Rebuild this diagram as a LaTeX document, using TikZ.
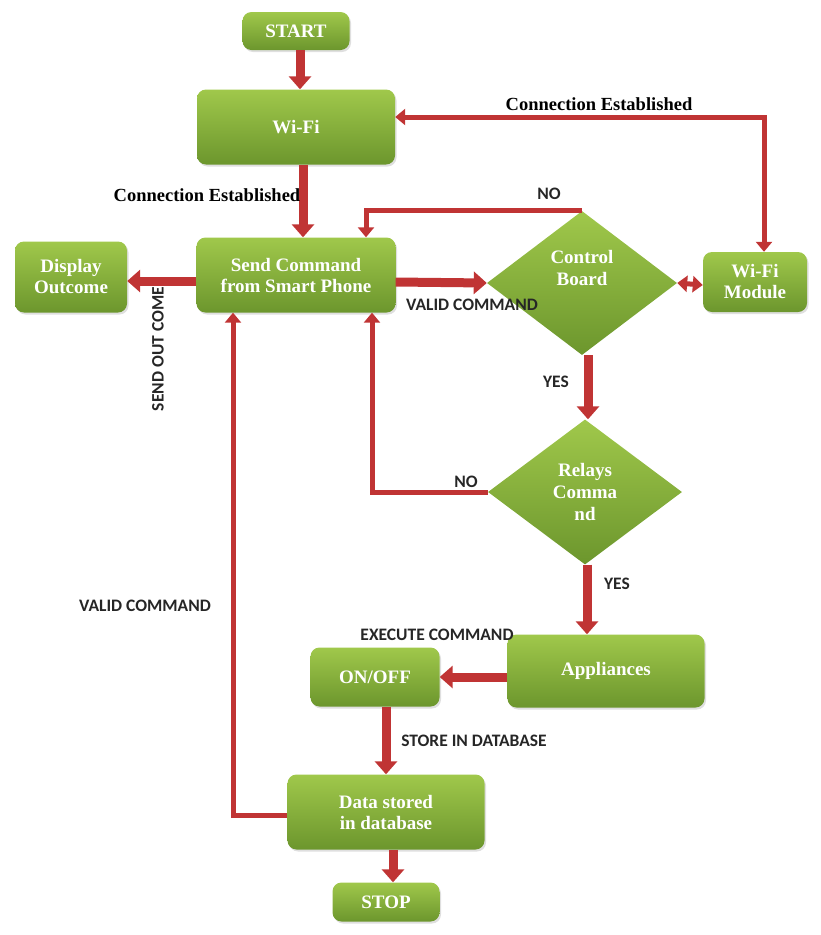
\documentclass[tikz,border=0pt]{standalone}
\usepackage{fontspec}
\setmainfont{Liberation Serif}
\newfontfamily\labfont{Carlito}
\usetikzlibrary{arrows.meta,shapes.geometric,shadows}

\definecolor{gtop}{RGB}{160,200,75}
\definecolor{gbot}{RGB}{108,150,45}
\definecolor{arrred}{RGB}{192,52,52}

\tikzset{
  flowbox/.style={rectangle, rounded corners=9pt, top color=gtop, bottom color=gbot,
    text=white, align=center, font=\fontsize{19}{21}\selectfont\bfseries, inner sep=2pt,
    drop shadow={opacity=0.25, shadow xshift=1.5pt, shadow yshift=-2pt}},
  decision/.style={diamond, top color=gtop, bottom color=gbot, text=white, align=center,
    font=\fontsize{19}{22}\selectfont\bfseries, inner sep=0pt},
  bigarrow/.style={draw=arrred, line width=9pt, -{Triangle[length=13pt,width=22pt]}},
  smallarrow/.style={draw=arrred, line width=5pt, -{Triangle[length=10pt,width=16pt]}},
  bothsmall/.style={draw=arrred, line width=5pt, {Triangle[length=10pt,width=16pt]}-{Triangle[length=10pt,width=16pt]}},
  serlabel/.style={font=\fontsize{18.5}{20}\selectfont\bfseries, text=black, inner sep=0pt},
  sanlabel/.style={font=\labfont\fontsize{17.5}{19}\selectfont\bfseries, text=black!85, inner sep=0pt}
}

\begin{document}
\begin{tikzpicture}[x=1pt, y=-1pt]
\useasboundingbox (0,0) rectangle (820,935);

% boxes and decisions
\node[flowbox, minimum width=107pt, minimum height=38pt] (start) at (296,31) {START};
\node[flowbox, minimum width=198pt, minimum height=75pt] (wifi) at (296,127) {Wi-Fi};
\node[flowbox, minimum width=199pt, minimum height=75pt] (send) at (296,275) {Send Command\\from Smart Phone};
\node[flowbox, minimum width=112pt, minimum height=71pt] (disp) at (71,277) {Display\\Outcome};
\node[decision, minimum width=190pt, minimum height=144pt] (ctrl) at (582,283) {Control\\Board\\[8pt]};
\node[flowbox, minimum width=104pt, minimum height=60pt] (wmod) at (755,282) {Wi-Fi\\Module};
\node[decision, minimum width=194pt, minimum height=145pt] (relay) at (585,492) {Relays\\Comma\\nd};
\node[flowbox, minimum width=197pt, minimum height=73pt] (appl) at (606,671) {Appliances};
\node[flowbox, minimum width=129pt, minimum height=59pt] (onoff) at (375,677) {ON/OFF};
\node[flowbox, minimum width=197pt, minimum height=75pt] (data) at (386,812) {Data stored\\in database};
\node[flowbox, minimum width=107pt, minimum height=39pt] (stop) at (386,902) {STOP};

% connectors
\draw[bigarrow] ([xshift=4pt]start.south) -- ([xshift=4pt]wifi.north);
\draw[bothsmall] ([xshift=9pt]wmod.north) |- ([yshift=10pt]wifi.east);
\draw[bigarrow] ([xshift=7pt]wifi.south) -- ([xshift=7pt]send.north);
\draw[bigarrow] ([yshift=-6pt]send.west) -- ([yshift=-4pt]disp.east);
\draw[bigarrow] ([yshift=-7pt]send.east) -- (ctrl.west);
\draw[smallarrow] (ctrl.north) -| ([xshift=70pt]send.north);
\draw[bothsmall] (ctrl.east) -- ([yshift=-3pt]wmod.west);
\draw[bigarrow] ([xshift=6pt]ctrl.south) -- ([xshift=3pt]relay.north);
\draw[smallarrow] (relay.west) -| ([xshift=76pt]send.south);
\draw[bigarrow] ([xshift=2pt]relay.south) -- ([xshift=-19pt]appl.north);
\draw[bigarrow] ([yshift=-6pt]appl.west) -- (onoff.east);
\draw[bigarrow] ([xshift=11pt]onoff.south) -- (data.north);
\draw[smallarrow] ([yshift=-3pt]data.west) -| ([xshift=-63pt]send.south);
\draw[bigarrow] ([xshift=7pt]data.south) -- ([xshift=7pt]stop.north);

% connector labels
\node[serlabel] (lce1) at (599,104) {Connection Established};
\node[serlabel] (lce2) at (207,195) {Connection Established};
\node[sanlabel] (lno1) at (549,194) {NO};
\node[sanlabel] (lvc1) at (472,305) {VALID COMMAND};
\node[sanlabel, rotate=90] (lsoc) at (158,349) {SEND OUT COME};
\node[sanlabel] (lyes1) at (556,382) {YES};
\node[sanlabel] (lno2) at (466,482) {NO};
\node[sanlabel] (lyes2) at (617,584) {YES};
\node[sanlabel] (lvc2) at (145,606) {VALID COMMAND};
\node[sanlabel] (lexe) at (437,635) {EXECUTE COMMAND};
\node[sanlabel] (lsto) at (474,741) {STORE IN DATABASE};
\end{tikzpicture}
\end{document}
